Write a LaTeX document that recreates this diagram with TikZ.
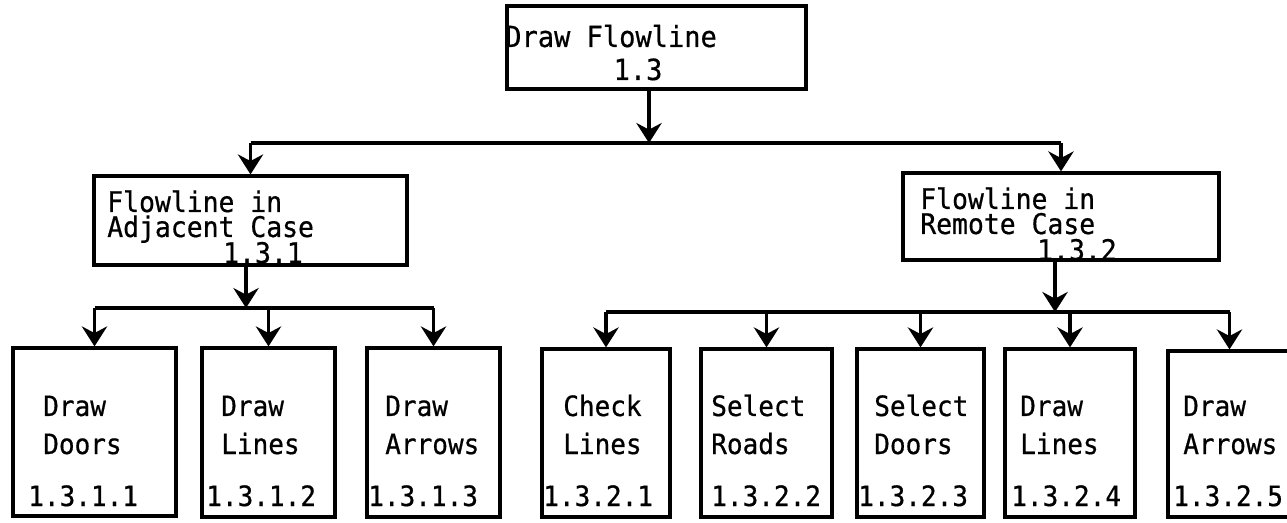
\documentclass[tikz,border=0pt]{standalone}
\usepackage{fontspec}
\newfontfamily\tw[FakeStretch=0.93,FakeBold=0.6]{DejaVu Sans Mono}
\usetikzlibrary{arrows.meta}
\begin{document}
\begin{tikzpicture}[x=0.75pt,y=-0.75pt,
  box/.style 2 args={draw,line width=2.4pt,rectangle,inner sep=0pt,
     minimum width={#1*0.75pt},minimum height={#2*0.75pt}},
  lbl/.style={inner sep=0pt,anchor=base west,font=\tw\fontsize{21pt}{22pt}\selectfont},
  mlbl/.style={inner sep=0pt,anchor=base west,text height=14.5pt,text depth=3pt,
     font=\tw\fontsize{21.3pt}{22pt}\selectfont},
  tlbl/.style={inner sep=0pt,anchor=base west,font=\tw\fontsize{21.8pt}{22pt}\selectfont},
  conn/.style={line width=2.4pt},
  arr/.style={line width=2.4pt,-{Stealth[length=15pt,width=19pt,inset=5pt]}}]
\useasboundingbox (0,0) rectangle (1287,523);
\clip (0,0) rectangle (1287,523);
% boxes
\node[box={299}{83}] (top) at (656.5,47.5) {};
\node[box={313}{89}] (adj) at (250.5,220.5) {};
\node[box={316}{87}] (rem) at (1061,216.5) {};
\node[box={163}{168}] (b1) at (94.5,432) {};
\node[box={133}{169}] (b2) at (268.5,432.5) {};
\node[box={133}{169}] (b3) at (433.5,432.5) {};
\node[box={128}{168}] (r1) at (606,433) {};
\node[box={131}{168}] (r2) at (766.5,433) {};
\node[box={127}{168}] (r3) at (920.5,433) {};
\node[box={130}{168}] (r4) at (1070,433) {};
\node[box={123}{166}] (r5) at (1229.5,434) {};
% texts
\node[tlbl] (t1) at (505,47) {Draw Flowline};
\node[tlbl,anchor=base] (t2) at (638,80) {1.3};
\node[mlbl] (a1) at (107,212) {Flowline in};
\node[mlbl] (a2) at (107,237) {Adjacent Case};
\node[mlbl,anchor=base] (a3) at (263,263) {1.3.1};
\node[mlbl] (m1) at (920,209) {Flowline in};
\node[mlbl] (m2) at (920,234) {Remote Case};
\node[mlbl,anchor=base] (m3) at (1077,260) {1.3.2};
\node[lbl] (b1a) at (43,416) {Draw};
\node[lbl] (b1b) at (43,454) {Doors};
\node[lbl] (b1c) at (28,506) {1.3.1.1};
\node[lbl] (b2a) at (221,416) {Draw};
\node[lbl] (b2b) at (221,454) {Lines};
\node[lbl] (b2c) at (206,506) {1.3.1.2};
\node[lbl] (b3a) at (385,416) {Draw};
\node[lbl] (b3b) at (385,454) {Arrows};
\node[lbl] (b3c) at (368,506) {1.3.1.3};
\node[lbl] (r1a) at (563,416) {Check};
\node[lbl] (r1b) at (563,454) {Lines};
\node[lbl] (r1c) at (543,506) {1.3.2.1};
\node[lbl] (r2a) at (711,416) {Select};
\node[lbl] (r2b) at (711,454) {Roads};
\node[lbl] (r2c) at (711,506) {1.3.2.2};
\node[lbl] (r3a) at (874,416) {Select};
\node[lbl] (r3b) at (874,454) {Doors};
\node[lbl] (r3c) at (858,506) {1.3.2.3};
\node[lbl] (r4a) at (1020,416) {Draw};
\node[lbl] (r4b) at (1020,454) {Lines};
\node[lbl] (r4c) at (1011,506) {1.3.2.4};
\node[lbl] (r5a) at (1183,416) {Draw};
\node[lbl] (r5b) at (1183,454) {Arrows};
\node[lbl] (r5c) at (1173,506) {1.3.2.5};
% junctions
\coordinate (j0) at (649,143);
\coordinate (j1) at (246,308);
\coordinate (j2) at (1055,312);
% top level
\draw[arr] (top.south -| j0) -- (j0);
\draw[conn] (j0 -| adj.north) -- (j0 -| rem.north);
\draw[arr] (j0 -| adj.north) -- (adj.north);
\draw[arr] (j0 -| rem.north) -- (rem.north);
% left group
\draw[arr] (adj.south -| j1) -- (j1);
\draw[conn] (j1 -| b1.north) -- (j1 -| b3.north);
\draw[arr] (j1 -| b1.north) -- (b1.north);
\draw[arr] (j1 -| b2.north) -- (b2.north);
\draw[arr] (j1 -| b3.north) -- (b3.north);
% right group
\draw[arr] (rem.south -| j2) -- (j2);
\draw[conn] (j2 -| r1.north) -- (j2 -| r5.north);
\draw[arr] (j2 -| r1.north) -- (r1.north);
\draw[arr] (j2 -| r2.north) -- (r2.north);
\draw[arr] (j2 -| r3.north) -- (r3.north);
\draw[arr] (j2 -| r4.north) -- (r4.north);
\draw[arr] (j2 -| r5.north) -- (r5.north);
\end{tikzpicture}
\end{document}
